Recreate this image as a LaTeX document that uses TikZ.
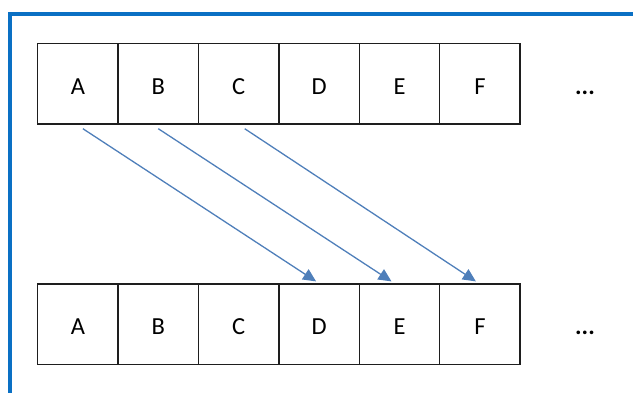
\documentclass[tikz,border=0pt]{standalone}
\usepackage{fontspec}
\setmainfont{Carlito}
\usetikzlibrary{arrows.meta}
\definecolor{framecol}{HTML}{0A70C4}
\definecolor{arrowcol}{HTML}{4F7FBA}
\definecolor{cellline}{HTML}{1E1E1E}
\begin{document}
\begin{tikzpicture}[x=1pt,y=-1pt,
  cell/.style={draw=cellline,line width=1.3pt,rectangle,
    minimum width=80.4pt,minimum height=80.5pt,inner sep=0pt,
    text height=21pt,text depth=0pt,font=\fontsize{24.5}{28}\selectfont},
  more/.style={cell,draw=none,font=\fontsize{24.5}{28}\selectfont\bfseries},
  shiftarrow/.style={draw=arrowcol,line width=1.3pt,
    -{Triangle[length=13pt,width=12pt]}}]
\useasboundingbox (0,0) rectangle (633,392);
% frame on the left and top edges
\draw[framecol,line width=4pt,line join=miter] (9.5,400) -- (9.5,13.7) -- (640,13.7);
% source row
\foreach \l [count=\i] in {A,B,C,D,E,F}
  \node[cell] (t\i) at ({77.9+80.4*(\i-1)},83.8) {\l};
\node[more] (tdots) at (585,83.8) {...};
% shifted row
\foreach \l [count=\i] in {A,B,C,D,E,F}
  \node[cell] (b\i) at ({77.9+80.4*(\i-1)},324.3) {\l};
\node[more] (bdots) at (585,324.3) {...};
% shift by three positions
\draw[shiftarrow] ([xshift=5pt,yshift=-4pt]t1.south) -- ([xshift=-3pt,yshift=2pt]b4.north);
\draw[shiftarrow] ([xshift=0pt,yshift=-4pt]t2.south) -- ([xshift=-8pt,yshift=2pt]b5.north);
\draw[shiftarrow] ([xshift=6pt,yshift=-4pt]t3.south) -- ([xshift=-4pt,yshift=2pt]b6.north);
\end{tikzpicture}
\end{document}
